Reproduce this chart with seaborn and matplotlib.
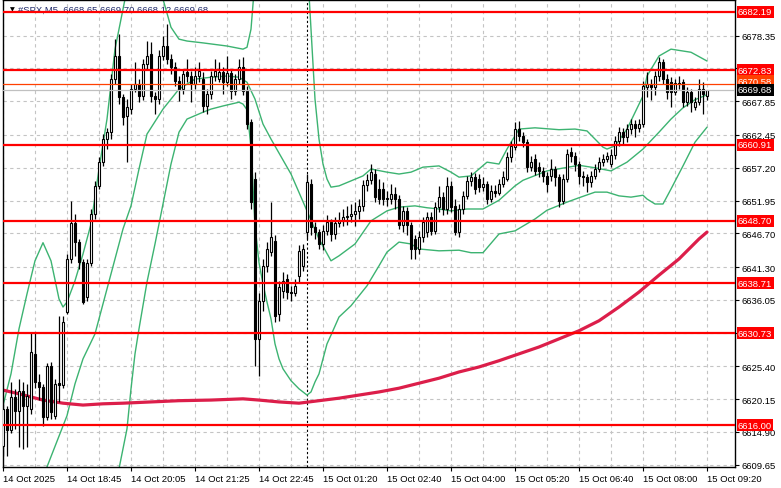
import matplotlib
matplotlib.use("Agg")
import matplotlib.pyplot as plt
import seaborn as sns

# #SPX M5 candles, bar 0 = 14 Oct 17:25 ... bar 176 = 15 Oct 09:20
opens = [6612.6, 6618.6, 6615.2, 6620.5, 6618.3, 6621.5, 6619.1, 6618.6, 6627.4, 6622.9,
         6622.1, 6617.3, 6625.5, 6617.5, 6622.8, 6622.4, 6634.1, 6642.6, 6648.4, 6645.3,
         6642.1, 6636.5, 6642.0, 6649.8, 6654.3, 6658.1, 6661.8, 6662.9, 6671.4, 6675.1,
         6668.5, 6665.5, 6666.6, 6669.8, 6670.6, 6668.7, 6673.8, 6675.4, 6668.7, 6668.2,
         6675.1, 6676.7, 6674.6, 6673.3, 6671.1, 6669.8, 6672.5, 6671.9, 6670.6, 6671.9,
         6671.4, 6667.1, 6669.0, 6671.9, 6671.4, 6672.5, 6670.9, 6672.4, 6669.5, 6671.4,
         6673.3, 6669.5, 6664.5, 6655.4, 6629.8, 6635.9, 6641.5, 6643.7, 6645.5, 6633.8,
         6637.5, 6639.4, 6637.3, 6637.2, 6639.9, 6641.5, 6646.9, 6654.6, 6647.7, 6646.9,
         6645.0, 6647.1, 6648.5, 6646.6, 6648.4, 6648.7, 6649.3, 6649.5, 6649.8, 6650.3,
         6651.1, 6654.4, 6655.2, 6656.2, 6653.8, 6653.8, 6652.4, 6652.2, 6653.0, 6652.2,
         6648.0, 6650.3, 6648.0, 6645.8, 6644.2, 6646.1, 6646.9, 6649.3, 6647.1, 6650.9,
         6652.5, 6650.6, 6654.3, 6651.1, 6646.9, 6650.6, 6652.7, 6655.1, 6655.7, 6655.4,
         6654.1, 6654.6, 6652.2, 6653.5, 6653.2, 6654.6, 6655.4, 6658.9, 6660.5, 6663.4,
         6662.3, 6661.3, 6657.3, 6658.6, 6657.3, 6656.7, 6655.9, 6655.9, 6657.0, 6655.7,
         6651.9, 6655.4, 6659.7, 6659.1, 6657.8, 6655.9, 6655.7, 6654.9, 6655.9, 6657.0,
         6658.1, 6658.6, 6657.8, 6659.2, 6661.5, 6662.9, 6662.1, 6663.4, 6664.2, 6663.6,
         6664.2, 6670.1, 6670.6, 6670.1, 6671.9, 6674.1, 6671.4, 6670.9, 6669.3, 6670.8,
         6670.9, 6667.7, 6669.3, 6666.9, 6667.7, 6669.8, 6668.65]
highs = [6619.4, 6619.0, 6622.9, 6621.8, 6623.4, 6622.9, 6622.6, 6630.9, 6630.9, 6624.2,
         6622.6, 6626.0, 6626.1, 6623.4, 6633.5, 6633.5, 6643.4, 6651.9, 6649.8, 6645.8,
         6642.6, 6642.6, 6650.6, 6655.1, 6658.9, 6662.6, 6663.6, 6672.2, 6677.8, 6678.6,
         6669.0, 6668.2, 6670.6, 6674.1, 6671.4, 6674.6, 6677.5, 6677.3, 6669.3, 6676.0,
         6678.3, 6680.2, 6675.4, 6674.1, 6671.9, 6673.0, 6674.6, 6672.7, 6673.3, 6674.1,
         6672.5, 6669.8, 6672.7, 6674.6, 6674.1, 6673.3, 6675.1, 6673.0, 6672.2, 6674.6,
         6674.9, 6670.3, 6665.0, 6656.5, 6637.2, 6642.6, 6645.3, 6651.7, 6646.4, 6639.1,
         6640.5, 6640.2, 6638.3, 6639.4, 6644.8, 6645.0, 6656.2, 6655.4, 6648.5, 6647.4,
         6648.0, 6649.6, 6649.0, 6649.3, 6650.1, 6650.6, 6651.1, 6651.4, 6651.7, 6652.2,
         6655.2, 6656.2, 6657.8, 6657.0, 6655.4, 6654.9, 6653.5, 6654.6, 6654.1, 6652.8,
         6651.1, 6650.9, 6648.5, 6646.4, 6647.1, 6649.3, 6650.1, 6650.1, 6651.7, 6654.3,
         6653.3, 6655.7, 6655.1, 6652.2, 6651.4, 6653.5, 6655.9, 6656.5, 6656.4, 6656.2,
         6655.7, 6655.1, 6654.4, 6654.4, 6655.4, 6656.7, 6659.7, 6661.5, 6664.5, 6664.7,
         6662.9, 6661.8, 6659.1, 6659.4, 6658.1, 6657.3, 6656.5, 6658.6, 6657.5, 6656.2,
         6656.2, 6660.2, 6660.5, 6659.7, 6658.3, 6656.7, 6656.2, 6656.7, 6657.8, 6658.9,
         6659.4, 6659.7, 6660.2, 6662.3, 6663.8, 6663.6, 6664.2, 6665.0, 6664.9, 6665.0,
         6671.1, 6672.5, 6671.4, 6672.7, 6674.9, 6674.6, 6672.2, 6671.7, 6671.4, 6671.9,
         6671.4, 6670.1, 6669.8, 6668.5, 6671.4, 6670.9, 6669.70]
lows = [6611.0, 6611.0, 6614.8, 6615.4, 6612.5, 6612.2, 6612.5, 6617.8, 6622.0, 6620.0,
        6615.9, 6616.8, 6617.0, 6617.0, 6619.7, 6622.0, 6633.8, 6642.0, 6643.1, 6641.0,
        6635.4, 6635.9, 6641.5, 6649.0, 6653.8, 6657.5, 6660.2, 6661.8, 6670.6, 6667.4,
        6664.0, 6658.1, 6665.8, 6669.3, 6667.7, 6668.0, 6673.0, 6667.7, 6665.8, 6667.4,
        6674.4, 6673.8, 6672.2, 6670.3, 6667.9, 6669.0, 6670.9, 6667.7, 6669.8, 6670.9,
        6666.2, 6665.8, 6668.2, 6671.1, 6670.9, 6669.0, 6670.3, 6668.2, 6668.8, 6670.6,
        6668.8, 6663.4, 6650.6, 6625.5, 6623.9, 6634.3, 6640.5, 6643.1, 6632.5, 6632.7,
        6636.4, 6636.2, 6635.9, 6636.7, 6638.8, 6640.7, 6645.8, 6646.4, 6645.8, 6644.2,
        6644.0, 6646.4, 6645.5, 6645.8, 6647.7, 6647.9, 6648.0, 6648.5, 6647.9, 6649.0,
        6650.3, 6653.5, 6654.6, 6651.7, 6651.4, 6651.2, 6651.1, 6651.4, 6650.6, 6647.4,
        6646.9, 6646.4, 6642.6, 6642.6, 6643.4, 6645.3, 6646.1, 6646.4, 6646.6, 6650.1,
        6649.6, 6649.8, 6650.1, 6646.4, 6646.1, 6649.8, 6652.2, 6654.3, 6653.0, 6653.3,
        6653.5, 6651.4, 6651.7, 6652.5, 6652.8, 6654.1, 6655.1, 6658.1, 6660.0, 6661.5,
        6660.5, 6656.5, 6656.7, 6656.0, 6655.7, 6654.9, 6653.3, 6655.1, 6654.3, 6650.9,
        6651.4, 6654.9, 6658.1, 6656.7, 6654.6, 6654.3, 6653.3, 6654.1, 6655.4, 6656.5,
        6657.5, 6658.1, 6657.3, 6658.6, 6660.7, 6661.0, 6661.3, 6662.6, 6662.1, 6662.9,
        6663.8, 6668.5, 6668.0, 6668.8, 6671.1, 6670.6, 6668.2, 6666.9, 6668.8, 6669.8,
        6666.9, 6667.1, 6666.1, 6666.4, 6667.2, 6665.8, 6668.12]
closes = [6618.6, 6615.2, 6620.5, 6618.3, 6621.5, 6619.1, 6620.7, 6627.7, 6622.9, 6622.1,
          6617.3, 6625.5, 6618.1, 6622.6, 6622.4, 6632.5, 6642.6, 6648.4, 6645.3, 6642.1,
          6635.7, 6642.0, 6649.8, 6654.3, 6658.1, 6661.8, 6662.9, 6671.4, 6675.1, 6668.5,
          6665.3, 6666.9, 6669.8, 6670.6, 6668.7, 6673.8, 6675.1, 6668.7, 6668.2, 6675.1,
          6676.7, 6674.6, 6673.3, 6671.1, 6669.8, 6672.2, 6671.9, 6670.6, 6671.9, 6672.7,
          6667.1, 6669.0, 6671.9, 6672.7, 6672.5, 6670.9, 6672.4, 6669.5, 6671.4, 6673.3,
          6669.5, 6664.2, 6651.7, 6629.8, 6635.9, 6641.5, 6644.2, 6646.1, 6633.5, 6638.1,
          6639.1, 6637.3, 6637.2, 6638.3, 6643.9, 6644.2, 6654.9, 6647.7, 6646.9, 6645.0,
          6647.1, 6648.5, 6646.6, 6648.4, 6648.7, 6649.3, 6649.5, 6649.8, 6650.3, 6651.1,
          6654.4, 6655.2, 6656.5, 6652.5, 6652.2, 6652.2, 6652.2, 6653.0, 6652.2, 6648.0,
          6650.3, 6648.0, 6644.2, 6644.2, 6646.1, 6648.5, 6649.3, 6647.1, 6650.9, 6652.5,
          6650.6, 6654.3, 6650.9, 6646.9, 6650.6, 6652.7, 6655.1, 6655.7, 6653.8, 6654.1,
          6654.6, 6652.2, 6653.5, 6653.2, 6654.6, 6655.7, 6658.9, 6660.7, 6663.4, 6662.3,
          6661.3, 6657.3, 6658.1, 6656.7, 6656.7, 6655.9, 6654.6, 6657.0, 6655.7, 6651.9,
          6655.4, 6659.4, 6659.1, 6657.8, 6655.9, 6655.7, 6654.9, 6655.9, 6657.0, 6658.1,
          6658.6, 6659.1, 6659.2, 6661.5, 6662.9, 6662.1, 6663.4, 6664.2, 6663.6, 6664.2,
          6670.3, 6670.6, 6670.1, 6671.9, 6674.1, 6671.4, 6669.3, 6669.3, 6670.8, 6670.6,
          6667.7, 6669.3, 6667.7, 6667.7, 6669.8, 6669.0, 6669.68]

# Bollinger bands (20, 2), values above/below the window are estimates
upper_idx = [0, 2, 4, 6, 8, 10, 12, 14, 15, 16, 18, 20, 22, 24, 26, 28, 30, 32, 36, 38, 40,
             42, 44, 46, 50, 56, 60, 61, 62, 63, 66, 72, 76, 77, 78, 79, 80, 81, 82, 84, 87,
             90, 92, 96, 99, 102, 105, 109, 112, 114, 117, 121, 124, 126, 129, 133, 139,
             143, 146, 148, 150, 151, 153, 156, 160, 161, 164, 167, 172, 176]
upper_band = [6619.1, 6624.2, 6631.4, 6637.0, 6642.3, 6645.2, 6642.3, 6636.2, 6634.9, 6635.7,
              6639.1, 6643.4, 6648.2, 6657.0, 6665.0, 6676.2, 6682.6, 6689.0, 6692.2, 6689.0,
              6684.2, 6679.7, 6677.8, 6677.5, 6677.2, 6676.7, 6676.2, 6676.5, 6679.4, 6687.4,
              6708.3, 6709.9, 6690.6, 6679.4, 6668.2, 6661.8, 6657.8, 6655.4, 6654.1, 6654.3,
              6655.1, 6655.9, 6657.0, 6656.5, 6656.2, 6656.5, 6657.3, 6657.5, 6656.5, 6655.7,
              6655.9, 6658.1, 6657.8, 6660.2, 6663.4, 6663.6, 6663.3, 6663.4, 6663.1, 6661.8,
              6660.5, 6660.2, 6660.7, 6663.4, 6668.7, 6671.9, 6675.1, 6676.2, 6675.7, 6674.3]
middle_idx = [0, 5, 10, 11, 16, 18, 20, 23, 25, 27, 30, 32, 34, 36, 40, 44, 48, 52, 56, 59,
              61, 63, 65, 67, 72, 76, 79, 82, 84, 88, 92, 96, 99, 103, 106, 109, 112, 116,
              120, 124, 128, 130, 136, 144, 148, 152, 156, 160, 164, 167, 170, 173, 176]
middle_band = [6601.0, 6603.4, 6607.4, 6609.3, 6617.5, 6622.6, 6626.6, 6630.6, 6635.4, 6640.2,
               6647.4, 6651.1, 6657.0, 6662.6, 6666.6, 6669.8, 6671.4, 6671.7, 6671.9, 6671.7,
               6670.9, 6668.2, 6664.2, 6661.8, 6656.2, 6650.3, 6645.8, 6642.3, 6643.1, 6645.0,
               6648.7, 6650.3, 6650.9, 6651.1, 6650.8, 6650.6, 6650.3, 6650.6, 6650.6, 6652.0,
               6654.3, 6655.2, 6656.7, 6657.6, 6657.2, 6656.7, 6658.1, 6660.2, 6662.9, 6665.0,
               6666.8, 6668.1, 6668.9]
lower_idx = [27, 29, 31, 32, 33, 34, 36, 38, 40, 42, 44, 46, 50, 52, 55, 59, 60, 61, 62, 63,
             64, 65, 66, 67, 68, 69, 70, 72, 74, 76, 77, 78, 79, 81, 82, 84, 87, 91, 94, 96,
             99, 102, 104, 109, 114, 117, 120, 124, 128, 133, 136, 141, 144, 148, 151, 154,
             157, 160, 161, 163, 165, 167, 170, 173, 176]
lower_band = [6601.0, 6609.0, 6615.4, 6621.8, 6627.4, 6631.4, 6638.9, 6645.0, 6651.4, 6657.8,
              6662.9, 6665.0, 6666.1, 6666.6, 6667.1, 6667.7, 6667.4, 6666.5, 6660.5, 6648.0,
              6642.0, 6638.6, 6635.7, 6633.0, 6629.0, 6626.6, 6625.0, 6623.1, 6621.8, 6620.8,
              6621.3, 6622.9, 6624.2, 6629.0, 6630.4, 6633.3, 6635.1, 6638.3, 6641.5, 6643.7,
              6645.3, 6645.0, 6644.2, 6643.9, 6644.0, 6643.6, 6643.6, 6646.6, 6647.1, 6649.0,
              6650.4, 6651.7, 6652.4, 6653.3, 6653.3, 6652.7, 6652.5, 6652.8, 6652.2, 6651.4,
              6651.4, 6653.8, 6657.5, 6661.3, 6663.7]

# slow moving average (crimson)
ma_idx = [0, 4, 10, 15, 20, 25, 30, 37, 44, 52, 60, 64, 69, 74, 79, 84, 89, 94, 99, 104,
          109, 114, 119, 124, 129, 134, 139, 144, 149, 154, 159, 164, 169, 174, 176]
ma_vals = [6621.6, 6621.0, 6620.0, 6619.5, 6619.2, 6619.4, 6619.5, 6619.7, 6619.9, 6620.0,
           6620.2, 6620.0, 6619.7, 6619.5, 6619.9, 6620.3, 6620.8, 6621.3, 6621.9, 6622.7,
           6623.5, 6624.5, 6625.3, 6626.3, 6627.4, 6628.5, 6629.8, 6631.1, 6632.7, 6634.9,
           6637.3, 6640.0, 6642.6, 6645.8, 6646.9]

levels = [6682.19, 6672.83, 6660.91, 6648.70, 6638.71, 6630.73, 6616.00]
ask_line = 6670.58
bid_line = 6669.68

ytick_vals = [6678.35, 6673.10, 6667.85, 6662.45, 6657.20, 6651.95, 6646.70, 6641.30,
              6636.05, 6630.80, 6625.40, 6620.15, 6614.90, 6609.65]
# these two sit under the level boxes on the price scale
hidden_ticks = [6673.10, 6630.80]
xtick_idx = [0, 16, 32, 48, 64, 80, 96, 112, 128, 144, 160, 176]
xtick_labels = ["14 Oct 2025", "14 Oct 18:45", "14 Oct 20:05", "14 Oct 21:25", "14 Oct 22:45",
                "15 Oct 01:20", "15 Oct 02:40", "15 Oct 04:00", "15 Oct 05:20", "15 Oct 06:40",
                "15 Oct 08:00", "15 Oct 09:20"]

sns.set_style("white")
plt.rcParams['font.family'] = ['Liberation Sans', 'DejaVu Sans']

fig = plt.figure(figsize=(7.81, 4.89), dpi=100)
ax = fig.add_axes([2.5 / 781, 21 / 489, 732.5 / 781, 467 / 489])

# dashed grid
for v in ytick_vals:
    ax.axhline(v, color='#c4c4c4', lw=0.8, ls=(0, (3, 3)), zorder=0)
for i in range(0, 184, 8):
    ax.axvline(i, color='#c4c4c4', lw=0.8, ls=(0, (3, 3)), zorder=0)
# day separator
ax.axvline(76, color='black', lw=0.8, ls=(0, (2, 2)), zorder=1)

# bollinger bands + moving average
green = '#3cb371'
sns.lineplot(x=upper_idx, y=upper_band, color=green, lw=1, ax=ax, zorder=2)
sns.lineplot(x=middle_idx, y=middle_band, color=green, lw=1, ax=ax, zorder=2)
sns.lineplot(x=lower_idx, y=lower_band, color=green, lw=1, ax=ax, zorder=2)
sns.lineplot(x=ma_idx, y=ma_vals, color='#dc1e4a', lw=2.3, ax=ax, zorder=2)

# candles
idx = list(range(len(closes)))
bottoms = [min(o, c) for o, c in zip(opens, closes)]
heights = [max(abs(c - o), 0.08) for o, c in zip(opens, closes)]
faces = ['white' if c >= o else 'black' for o, c in zip(opens, closes)]
ax.vlines(idx, lows, highs, color='black', lw=0.9, zorder=2.9)
ax.bar(idx, heights, bottom=bottoms, width=0.7, color=faces, edgecolor='black',
       linewidth=0.8, zorder=3)

# price levels
for v in levels:
    ax.axhline(v, color='#ff0000', lw=1.6, zorder=4)
ax.axhline(ask_line, color='#ff4000', lw=0.9, zorder=4)
ax.axhline(bid_line, color='#c0c0c0', lw=0.9, zorder=4)

ax.set_xlim(-0.125, 183)
ax.set_ylim(6609.28, 6684.07)

ax.yaxis.tick_right()
ax.set_yticks(ytick_vals)
ax.set_yticklabels(["" if v in hidden_ticks else f"{v:.2f}" for v in ytick_vals])
ax.tick_params(axis='y', right=True, length=3, width=0.8, pad=2, labelsize=6.8,
               direction='out', colors='black')
ax.set_xticks(xtick_idx)
ax.set_xticklabels(xtick_labels, ha='left')
ax.tick_params(axis='x', bottom=True, length=3, width=0.8, pad=2, labelsize=6.8,
               direction='out', colors='black')
ax.set_xlabel('')
ax.set_ylabel('')
for s in ax.spines.values():
    s.set_color('black')
    s.set_linewidth(1)

# labels on the price scale
ytr = ax.get_yaxis_transform()
for v in levels:
    ax.text(1.004, v, f"{v:.2f}", transform=ytr, ha='left', va='center', color='white',
            fontsize=6.8, clip_on=False, zorder=6,
            bbox=dict(boxstyle='square,pad=0.15', fc='#ff0000', ec='none'))
ax.text(1.004, ask_line + 0.5, f"{ask_line:.2f}", transform=ytr, ha='left', va='center',
        color='white', fontsize=6.8, clip_on=False, zorder=6,
        bbox=dict(boxstyle='square,pad=0.15', fc='#ff4000', ec='none'))
ax.text(1.004, bid_line, f"{bid_line:.2f}", transform=ytr, ha='left', va='center',
        color='white', fontsize=6.8, clip_on=False, zorder=7,
        bbox=dict(boxstyle='square,pad=0.15', fc='black', ec='none'))

# symbol header
ax.text(0.010, 0.981, '\u25bc', transform=ax.transAxes, fontsize=4.5, color='black',
        ha='left', va='center', zorder=3.5, family=['DejaVu Sans'])
ax.text(0.021, 0.981, "#SPX,M5  6668.65 6669.70 6668.12 6669.68", transform=ax.transAxes,
        fontsize=6.8, color='#202a6a', ha='left', va='center', zorder=3.5)

fig.savefig('out.png', dpi=100)
